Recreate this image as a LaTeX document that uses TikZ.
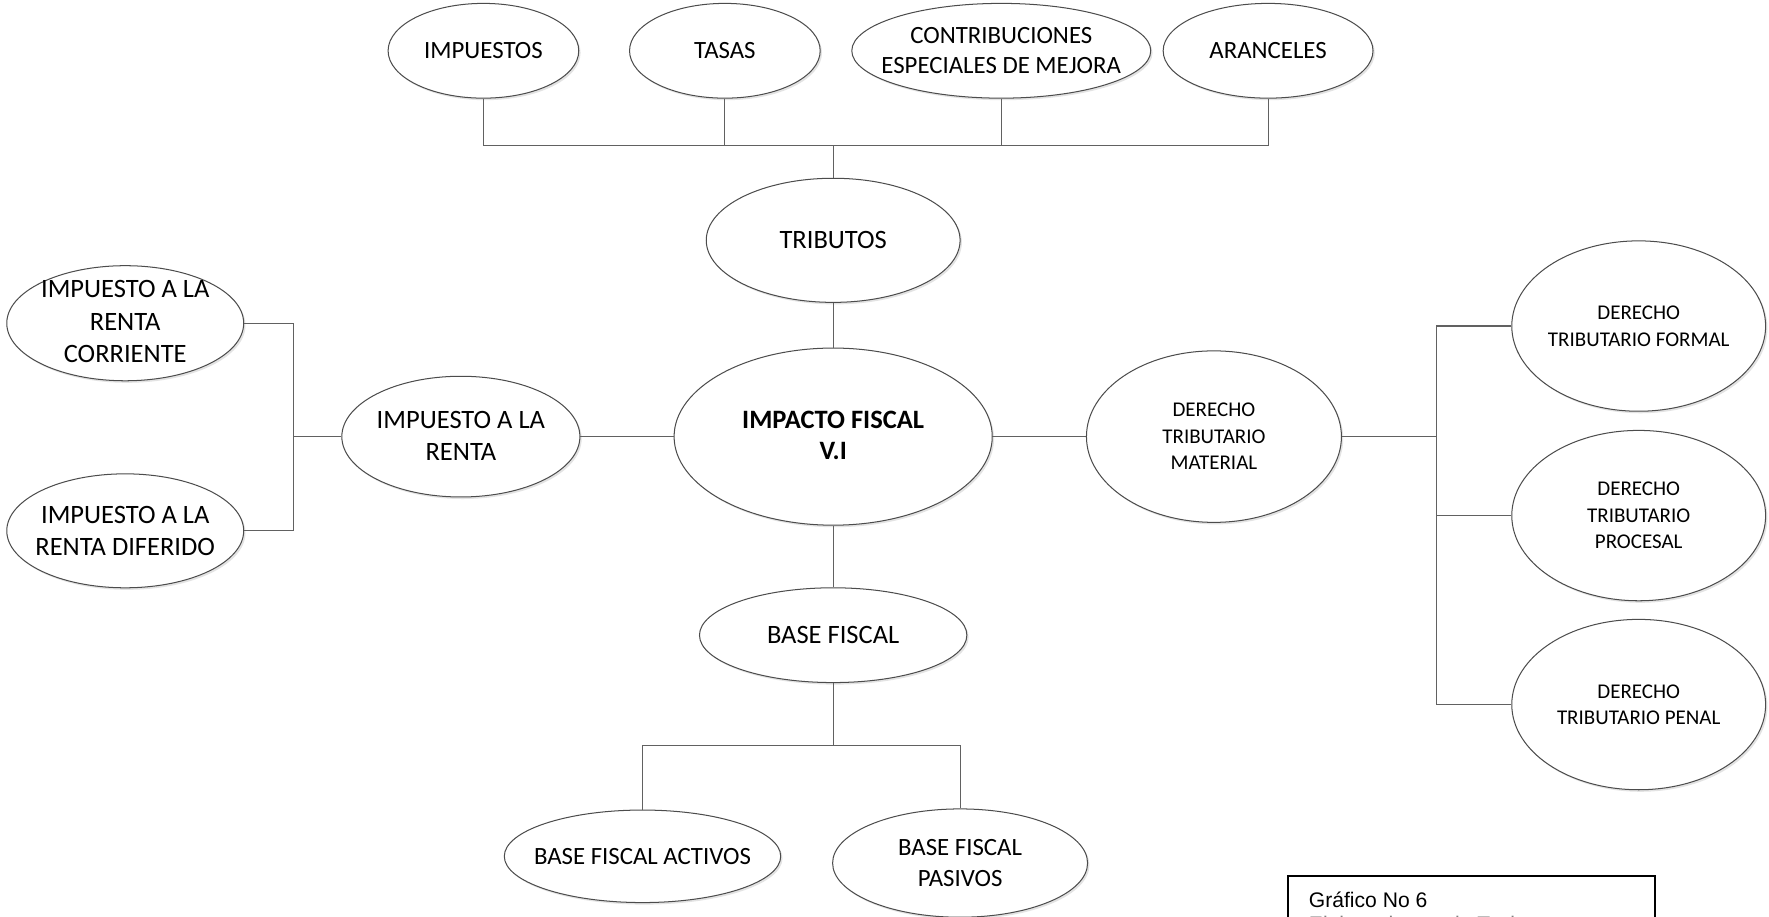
\documentclass[tikz,border=0pt]{standalone}
\usepackage{fontspec}
\setmainfont{Carlito}
\newfontfamily\capfont{Liberation Sans}
\usetikzlibrary{shapes.geometric,shadows}

\tikzset{
  oval/.style={ellipse, draw=black!70, line width=0.9pt, fill=white, inner sep=0pt,
    drop shadow={shadow xshift=1.6pt, shadow yshift=-1.8pt, fill=black!18, opacity=0.6}},
  conn/.style={draw=black!62, line width=1pt},
  lbl/.style={inner sep=0pt, align=center, text=black},
  fa/.style={font=\fontsize{22}{27}\selectfont},
  fb/.style={font=\fontsize{23.5}{28.5}\selectfont},
  fc/.style={font=\fontsize{18.6}{23.5}\selectfont},
  fd/.style={font=\bfseries\fontsize{23.5}{27.5}\selectfont},
}

\begin{document}
\begin{tikzpicture}[x=1pt,y=-1pt]
\useasboundingbox (0,0) rectangle (1568,812);
\clip (0,0) rectangle (1568,812);
\fill[white] (0,0) rectangle (1568,812);

% ---- ovals ----
\node[oval, minimum width=169pt, minimum height=84pt] (impuestos) at (428.5,45) {};
\node[oval, minimum width=169pt, minimum height=84pt] (tasas) at (642.5,45) {};
\node[oval, minimum width=265pt, minimum height=84pt] (contrib) at (887.5,45) {};
\node[oval, minimum width=186pt, minimum height=84pt] (aranceles) at (1124,45) {};
\node[oval, minimum width=225pt, minimum height=110pt] (tributos) at (738.5,213) {};
\node[oval, minimum width=282pt, minimum height=157pt] (impacto) at (738.5,387) {};
\node[oval, minimum width=211pt, minimum height=107pt] (renta) at (408.5,387) {};
\node[oval, minimum width=210pt, minimum height=102pt] (corriente) at (111,286.5) {};
\node[oval, minimum width=210pt, minimum height=101pt] (diferido) at (111,470.5) {};
\node[oval, minimum width=226pt, minimum height=152pt] (material) at (1076,387) {};
\node[oval, minimum width=225pt, minimum height=151pt] (formal) at (1452.5,289) {};
\node[oval, minimum width=225pt, minimum height=151pt] (procesal) at (1452.5,457) {};
\node[oval, minimum width=225pt, minimum height=151pt] (penal) at (1452.5,624.5) {};
\node[oval, minimum width=237pt, minimum height=84pt] (basef) at (738.5,563) {};
\node[oval, minimum width=245pt, minimum height=82pt] (activos) at (569.5,759) {};
\node[oval, minimum width=226pt, minimum height=96pt] (pasivos) at (851,765) {};

% ---- labels ----
\node[lbl, fa] (impuestos-t) at (impuestos) {IMPUESTOS};
\node[lbl, fa] (tasas-t) at (tasas) {TASAS};
\node[lbl, fa] (contrib-t) at (contrib) {CONTRIBUCIONES\\ESPECIALES DE MEJORA};
\node[lbl, fa] (aranceles-t) at (aranceles) {ARANCELES};
\node[lbl, fb] (tributos-t) at (tributos) {TRIBUTOS};
\node[lbl, fd] (impacto-t) at (738.5,386) {IMPACTO FISCAL\\V.I};
\node[lbl, fb] (renta-t) at (408.5,386) {IMPUESTO A LA\\RENTA};
\node[lbl, fb] (corriente-t) at (111,285) {IMPUESTO A LA\\RENTA\\CORRIENTE};
\node[lbl, fb] (diferido-t) at (111,470.5) {IMPUESTO A LA\\RENTA DIFERIDO};
\node[lbl, fc] (material-t) at (material) {DERECHO\\TRIBUTARIO\\MATERIAL};
\node[lbl, fc] (formal-t) at (formal) {DERECHO\\TRIBUTARIO FORMAL};
\node[lbl, fc] (procesal-t) at (procesal) {DERECHO\\TRIBUTARIO\\PROCESAL};
\node[lbl, fc] (penal-t) at (penal) {DERECHO\\TRIBUTARIO PENAL};
\node[lbl, fb] (basef-t) at (basef) {BASE FISCAL};
\node[lbl, fa] (activos-t) at (activos) {BASE FISCAL ACTIVOS};
\node[lbl, fa] (pasivos-t) at (pasivos) {BASE FISCAL\\PASIVOS};

% ---- connectors ----
\coordinate (tbar) at (738.5,129);
\draw[conn] (impuestos.south) |- (aranceles.south |- tbar) -- (aranceles.south);
\draw[conn] (tasas.south) -- (tasas.south |- tbar);
\draw[conn] (contrib.south) -- (contrib.south |- tbar);
\draw[conn] (tbar) -- (tributos.north);
\draw[conn] (tributos.south) -- (impacto.north);

\coordinate (lbar) at (260,387);
\draw[conn] (corriente.east) -| (lbar) |- (diferido.east);
\draw[conn] (lbar) -- (renta.west);
\draw[conn] (renta.east) -- (impacto.west);

\draw[conn] (impacto.east) -- (material.west);
\coordinate (rbar) at (1273,387);
\draw[conn] (material.east) -- (rbar);
\draw[conn] (formal.west) -| (rbar) |- (penal.west);
\draw[conn] (procesal.west) -- (procesal.west -| rbar);

\draw[conn] (impacto.south) -- (basef.north);
\coordinate (bbar) at (738.5,661);
\draw[conn] (basef.south) -- (bbar);
\draw[conn] (activos.north) |- (pasivos.north |- bbar) -- (pasivos.north);

% ---- caption box ----
\node[draw=black, line width=1.6pt, minimum width=325pt, minimum height=80pt,
      anchor=north west, inner sep=0pt] (caja) at (1141,775.5) {};
\node[inner sep=0pt, anchor=base west, font=\capfont\fontsize{18.7}{22}\selectfont]
      (cap1) at (1160,804) {Gráfico No 6};
\node[inner sep=0pt, anchor=base west, text=black!50, font=\capfont\fontsize{18.7}{22}\selectfont]
      (cap2) at (1160,826) {Elaborado por: la Tesista};
\end{tikzpicture}
\end{document}
